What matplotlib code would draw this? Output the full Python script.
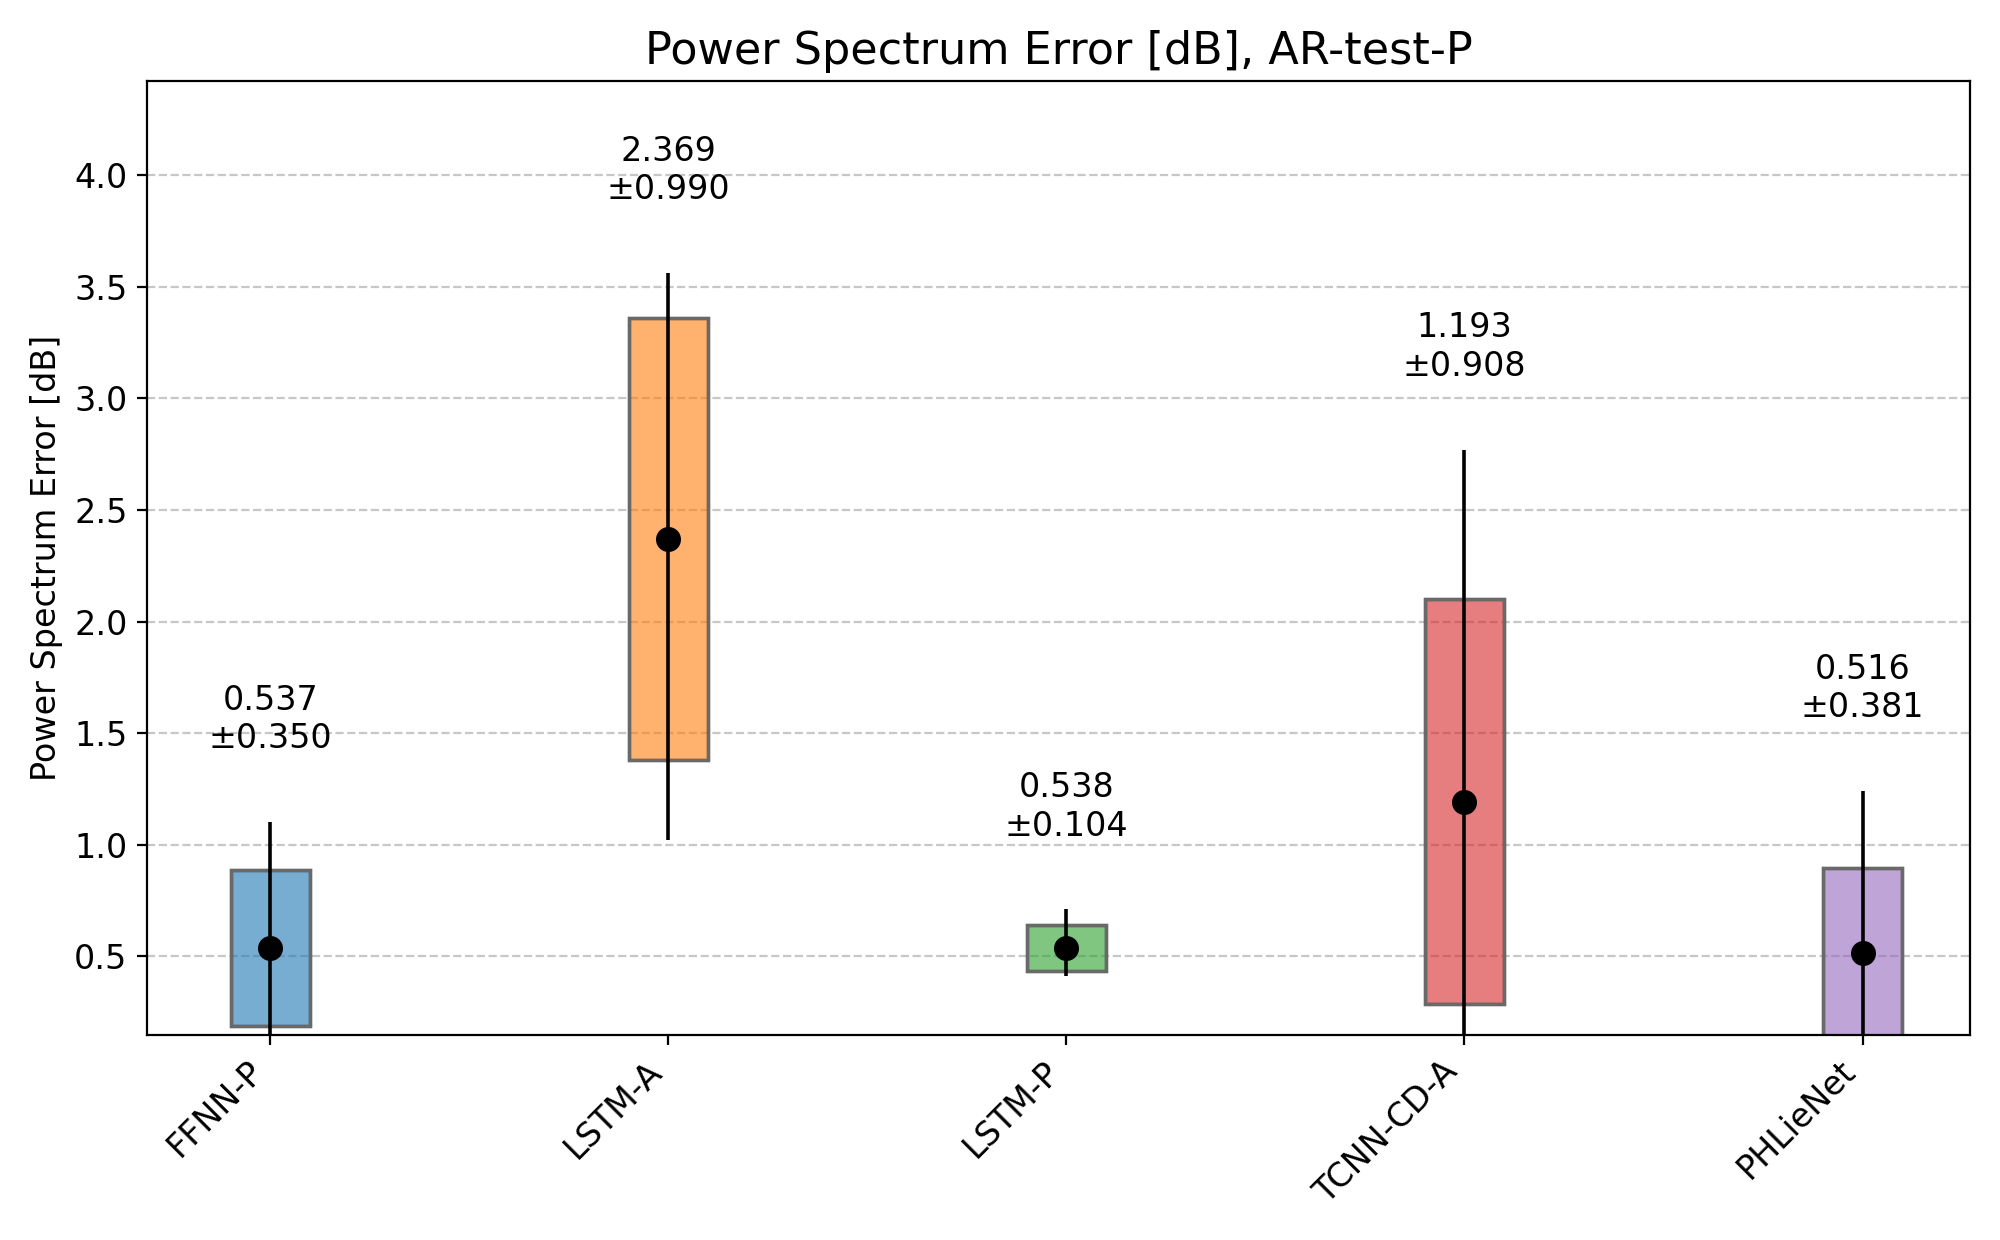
import matplotlib
matplotlib.use("Agg")
import matplotlib.pyplot as plt

models = ["FFNN-P", "LSTM-A", "LSTM-P", "TCNN-CD-A", "PHLieNet"]
means = [0.537, 2.369, 0.538, 1.193, 0.516]
stds = [0.350, 0.990, 0.104, 0.908, 0.381]
wlow = [0.05, 1.02, 0.41, 0.05, 0.05]
whigh = [1.10, 3.56, 0.71, 2.77, 1.24]
colors = ["tab:blue", "tab:orange", "tab:green", "tab:red", "tab:purple"]

fig, ax = plt.subplots(figsize=(10, 6.2), dpi=200)
x = list(range(len(models)))
for i in x:
    ax.bar(i, 2 * stds[i], bottom=means[i] - stds[i], width=0.2, color=colors[i],
           alpha=0.6, edgecolor="black", linewidth=1.2, zorder=2)
    ax.bar(i, 2 * stds[i], bottom=means[i] - stds[i], width=0.2, fill=False,
           edgecolor="dimgray", linewidth=1.2, zorder=2)
    ax.vlines(i, wlow[i], whigh[i], color="black", linewidth=1.3, zorder=3)
    ax.plot(i, means[i], "o", color="black", markersize=8, zorder=4)
    ax.text(i, whigh[i] + 0.3, f"{means[i]:.3f}\n±{stds[i]:.3f}", ha="center",
            va="bottom", fontsize=12)

ax.set_xticks(x)
ax.set_xticklabels(models, rotation=45, ha="right", fontsize=12)
ax.tick_params(axis="y", labelsize=12)
ax.set_xlim(-0.31, 4.27)
ax.set_ylim(0.147, 4.423)
ax.yaxis.grid(True, linestyle="--", alpha=0.7, zorder=0)
ax.set_axisbelow(True)
ax.set_ylabel("Power Spectrum Error [dB]", fontsize=12)
ax.set_title("Power Spectrum Error [dB], AR-test-P", fontsize=16)
plt.tight_layout()
plt.savefig("out.png")
